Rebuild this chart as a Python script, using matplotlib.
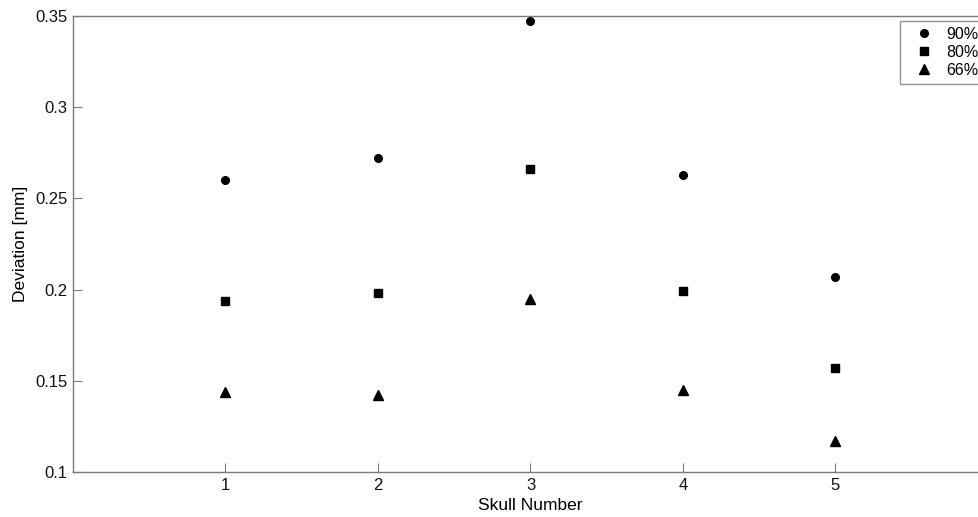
import matplotlib
matplotlib.use("Agg")
import matplotlib.pyplot as plt

skulls = [1, 2, 3, 4, 5]
dev_90 = [0.260, 0.272, 0.347, 0.263, 0.207]
dev_80 = [0.194, 0.198, 0.266, 0.199, 0.157]
dev_66 = [0.144, 0.142, 0.195, 0.145, 0.117]
series_labels = ["90%", "80%", "66%"]
yticks = [0.1, 0.15, 0.2, 0.25, 0.3, 0.35]
ytick_labels = ["0.1", "0.15", "0.2", "0.25", "0.3", "0.35"]
xticks = [1, 2, 3, 4, 5]

plt.rcParams['font.family'] = ['Liberation Sans', 'DejaVu Sans']

fig = plt.figure(figsize=(9.79, 5.17), dpi=100)
ax = fig.add_axes([73/979, 1 - 472/517, 915/979, (472-16)/517])

ax.plot(skulls, dev_90, linestyle='none', marker='o', color='black', markersize=5.5, label=series_labels[0])
ax.plot(skulls, dev_80, linestyle='none', marker='s', color='black', markersize=6, label=series_labels[1])
ax.plot(skulls, dev_66, linestyle='none', marker='^', color='black', markersize=7, label=series_labels[2])

ax.set_xlim(0, 6)
ax.set_ylim(0.1, 0.35)
ax.set_xticks(xticks)
ax.set_xticklabels([str(x) for x in xticks])
ax.set_yticks(yticks)
ax.set_yticklabels(ytick_labels)

spine_color = '#7a7a7a'
for s in ax.spines.values():
    s.set_color(spine_color)
    s.set_linewidth(1.0)
ax.spines['right'].set_visible(False)
ax.tick_params(direction='in', length=6.5, width=0.8, color=spine_color,
               labelsize=12, labelcolor='#111111', top=False, right=False, pad=4)

ax.set_xlabel("Skull Number", fontsize=12.5, labelpad=4)
ax.set_ylabel("Deviation [mm]", fontsize=12.5, labelpad=5)

leg = fig.legend(loc='upper left', bbox_to_anchor=(900/979, 1 - 21/517),
                 frameon=True, fancybox=False, fontsize=11.5, handlelength=2.3,
                 handletextpad=0.25, borderpad=0.35, labelspacing=0.2, borderaxespad=0)
leg.get_frame().set_edgecolor(spine_color)
leg.get_frame().set_linewidth(1.0)

fig.savefig("out.png", dpi=100)
